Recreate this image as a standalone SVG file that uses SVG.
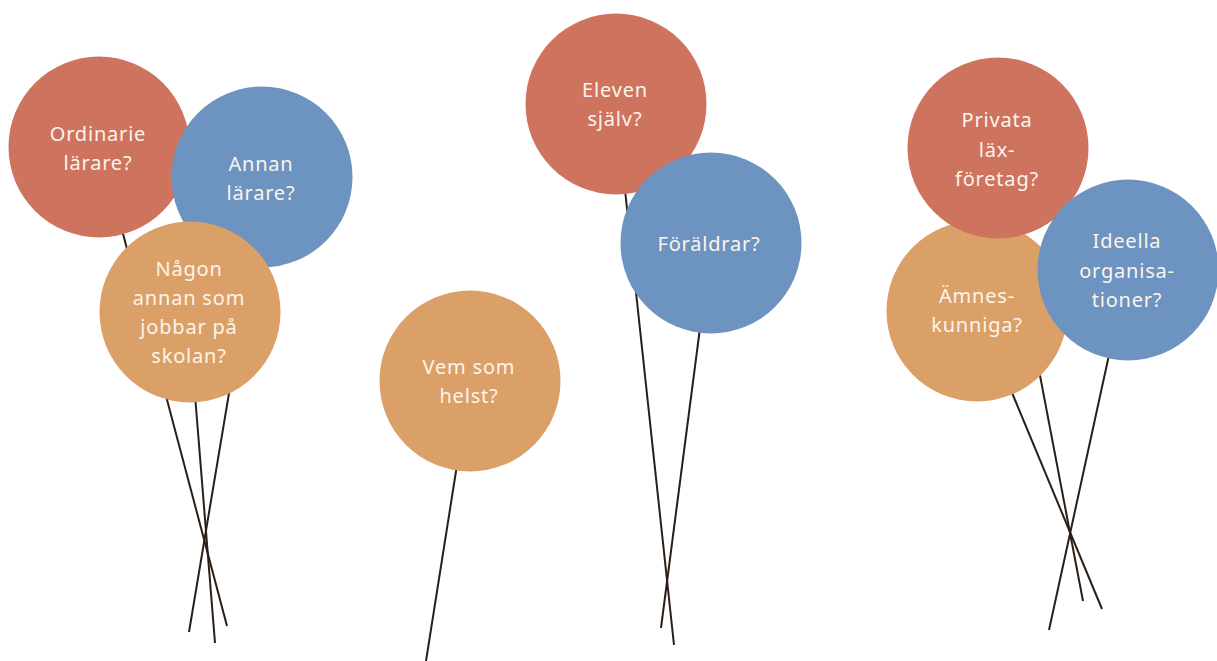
<svg xmlns="http://www.w3.org/2000/svg" width="1217" height="661" viewBox="0 0 1217 661">
<style>
.s{stroke:#2b1e17;stroke-width:2;fill:none}
.r{fill:#ce735e}
.b{fill:#6d93c0}
.o{fill:#dba068}
text{font-family:"Noto Sans","Open Sans",sans-serif;font-size:20px;fill:#fcf4ec;text-anchor:middle;letter-spacing:0.8px}
</style>
<rect width="1217" height="661" fill="#ffffff"/>
<g id="strings">
<line class="s" x1="122" y1="230" x2="227" y2="626"/>
<line class="s" x1="251" y1="262" x2="189" y2="632"/>
<line class="s" x1="195" y1="395" x2="215" y2="643"/>
<line class="s" x1="457" y1="465" x2="426" y2="661"/>
<line class="s" x1="625" y1="190" x2="674" y2="645"/>
<line class="s" x1="700" y1="328" x2="661" y2="628"/>
<line class="s" x1="1013" y1="234" x2="1083" y2="601"/>
<line class="s" x1="1010" y1="388" x2="1102" y2="609"/>
<line class="s" x1="1109" y1="355" x2="1049" y2="630"/>
</g>
<g id="ordinarie">
<circle class="r" cx="99" cy="147" r="90.5"/>
<text x="98" y="141">Ordinarie</text>
<text x="98" y="170">lärare?</text>
</g>
<g id="annan">
<circle class="b" cx="262" cy="177" r="90.5"/>
<text x="261" y="171">Annan</text>
<text x="261" y="200">lärare?</text>
</g>
<g id="nagon">
<circle class="o" cx="190" cy="312" r="90.5"/>
<text x="189" y="276">Någon</text>
<text x="189" y="305">annan som</text>
<text x="189" y="334">jobbar på</text>
<text x="189" y="363">skolan?</text>
</g>
<g id="vem">
<circle class="o" cx="470" cy="381" r="90.5"/>
<text x="469" y="374">Vem som</text>
<text x="469" y="403">helst?</text>
</g>
<g id="eleven">
<circle class="r" cx="616" cy="104" r="90.5"/>
<text x="615" y="97">Eleven</text>
<text x="615" y="126">själv?</text>
</g>
<g id="foraldrar">
<circle class="b" cx="711" cy="243" r="90.5"/>
<text x="709" y="251">Föräldrar?</text>
</g>
<g id="amnes">
<circle class="o" cx="977" cy="311" r="90.5"/>
<text x="977" y="303">Ämnes-</text>
<text x="977" y="332">kunniga?</text>
</g>
<g id="privata">
<circle class="r" cx="998" cy="148" r="90.5"/>
<text x="997" y="127">Privata</text>
<text x="997" y="157">läx-</text>
<text x="997" y="186">företag?</text>
</g>
<g id="ideella">
<circle class="b" cx="1128" cy="270" r="90.5"/>
<text x="1127" y="248">Ideella</text>
<text x="1127" y="278">organisa-</text>
<text x="1127" y="307">tioner?</text>
</g>
</svg>
